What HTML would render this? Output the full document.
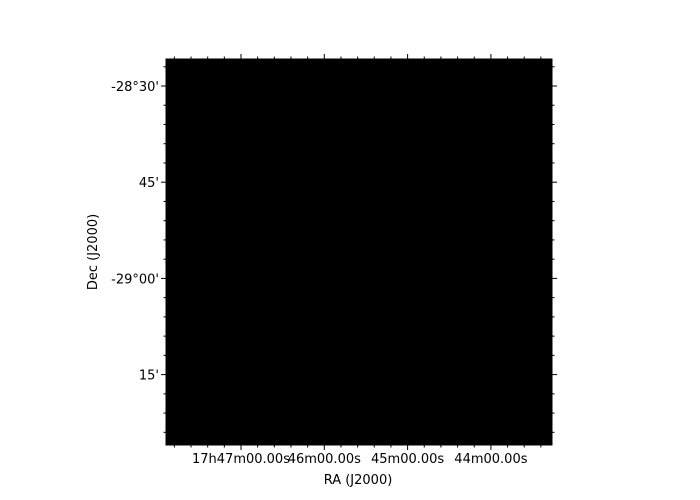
<!DOCTYPE html>
<html><head><meta charset="utf-8"><style>body{margin:0;background:#fff}svg{display:block}</style></head>
<body>
<svg width="700" height="500" font-family="DejaVu Sans, Liberation Sans, sans-serif" font-size="13">
<rect x="166" y="59" width="386" height="386" fill="#000" stroke="#000"/>
<g id="ticks" stroke="#000" stroke-width="1"></g>
<g id="labels" fill="#000"></g>
<text x="358" y="484" text-anchor="middle">RA (J2000)</text>
<text transform="translate(97,252) rotate(-90)" text-anchor="middle">Dec (J2000)</text>
</svg>
<script>
const xTickLabels=["17h47m00.00s","46m00.00s","45m00.00s","44m00.00s"];
const yTickLabels=["-28°30'","45'","-29°00'","15'"];
const NS="http://www.w3.org/2000/svg";
const tg=document.getElementById('ticks'),lg=document.getElementById('labels');
function line(x1,y1,x2,y2){const l=document.createElementNS(NS,'line');l.setAttribute('x1',x1);l.setAttribute('y1',y1);l.setAttribute('x2',x2);l.setAttribute('y2',y2);


tg.appendChild(l);}
const x0=241,dx=83.3,y0=86,dy=96.2;
for(let i=-5;i<=20;i++){const x=x0+i*dx/5;if(x<167||x>551)continue;const L=i%5===0?5:2.5;
line(x,59,x,59-L);line(x,445,x,445+L);}
for(let i=-5;i<=20;i++){const y=y0+i*dy/5;if(y<60||y>444)continue;const L=i%5===0?5:2.5;
line(166,y,166-L,y);line(552,y,552+L,y);}
xTickLabels.forEach((t,i)=>{const e=document.createElementNS(NS,'text');e.setAttribute('x',x0+i*dx);e.setAttribute('y',463);e.setAttribute('text-anchor','middle');e.textContent=t;


lg.appendChild(e);});
yTickLabels.forEach((t,i)=>{const e=document.createElementNS(NS,'text');e.setAttribute('x',159);e.setAttribute('y',y0+i*dy+5);e.setAttribute('text-anchor','end');e.textContent=t;


lg.appendChild(e);});
</script>
</body></html>
